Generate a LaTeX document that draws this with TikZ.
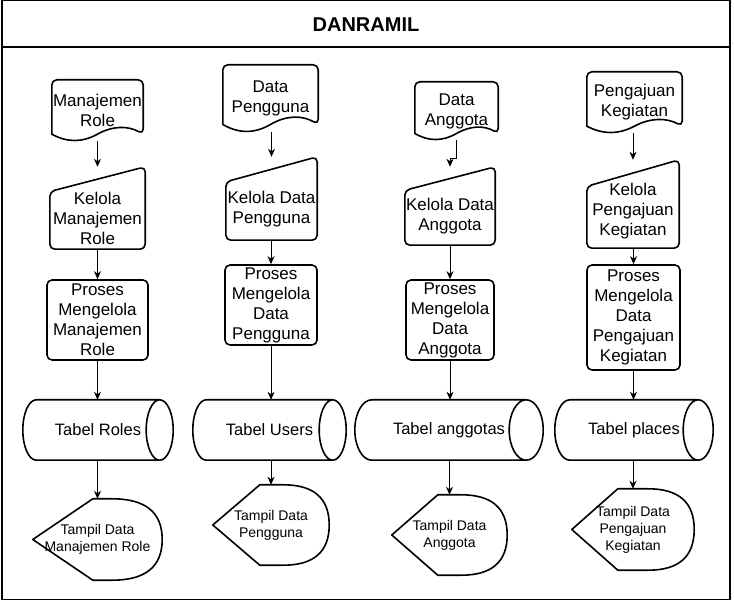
\documentclass[tikz,border=0pt]{standalone}
\usepackage{fontspec}
\setmainfont{Liberation Sans}
\usetikzlibrary{arrows.meta,calc}
\tikzset{
  shp/.style={line width=1.6pt, line join=round},
  bx/.style n args={2}{inner sep=0pt, align=center, minimum width=#1pt, minimum height=#2pt,
     font=\fontsize{17}{20}\selectfont},
  procbox/.style={draw, shp, rounded corners=5pt},
  cyltxt/.style={font=\fontsize{16.5}{20}\selectfont},
  disptxt/.style={font=\fontsize{14}{17}\selectfont},
  lbl/.style={inner sep=0pt, align=center, font=\fontsize{17}{20}\selectfont},
  arr/.style={line width=1pt, -{Stealth[length=8pt,width=7pt,inset=2.5pt]}},
}
\newcommand\docu[1]{%
  \draw[shp] let \p1=(#1.north west), \p2=(#1.south east), \n1={\x2-\x1},
    \n2={0.23*(\y1-\y2)}, \n3={\y2+0.5*\n2} in
    (\x1,\n3) [rounded corners=5pt] -- (\x1,\y1) -- (\x2,\y1) -- (\x2,\n3) [sharp corners]
    .. controls ({\x2-\n1/6},{\n3+0.6*\n2}) and ({\x1+\n1/2+\n1/6},{\n3+0.6*\n2}) .. ({\x1+\n1/2},\n3)
    .. controls ({\x1+\n1/2-\n1/6},{\n3-0.6*\n2}) and ({\x1+\n1/6},{\n3-0.6*\n2}) .. (\x1,\n3) -- cycle;}
\newcommand\manin[1]{%
  \draw[shp, rounded corners=5pt] let \p1=(#1.north west), \p2=(#1.south east) in
    ({(\x1+\x2)/2},\y2) -- (\x1,\y2) -- (\x1,{\y1-0.3*(\y1-\y2)}) -- (\x2,\y1) -- (\x2,\y2) -- cycle;}
\newcommand\cyl[2]{%
  \draw[shp] let \p1=(#1.north west), \p2=(#1.south east), \n1={(\y1-\y2)/2} in
    ({\x1+#2pt},\y1) -- ({\x2-#2pt},\y1) arc[start angle=90, end angle=-90, x radius=#2pt, y radius=\n1]
    -- ({\x1+#2pt},\y2) arc[start angle=270, end angle=90, x radius=#2pt, y radius=\n1] -- cycle
    ({\x2-#2pt},\y1) arc[start angle=90, end angle=270, x radius=#2pt, y radius=\n1];}
\newcommand\disp[3]{%
  \draw[shp] let \p1=(#1.north west), \p2=(#1.south east), \n1={(\y1+\y2)/2} in
    (\x1,\n1) -- ({\x1+#2pt},\y1) -- ({\x2-#3pt},\y1)
    .. controls ({\x2-#3pt/3},\y1) and (\x2,{\n1+2*(\y1-\n1)/3}) .. (\x2,\n1)
    .. controls (\x2,{\n1-2*(\n1-\y2)/3}) and ({\x2-#3pt/3},\y2) .. ({\x2-#3pt},\y2)
    -- ({\x1+#2pt},\y2) -- cycle;}
\begin{document}
\begin{tikzpicture}[x=1pt,y=-1pt]
\useasboundingbox (0,0) rectangle (734,601);
% frame
\draw[line width=1.3pt] (2,0.8) rectangle (730,599.5);
\draw[line width=2pt] (2,47) -- (730,47);
\node[font=\fontsize{20}{24}\selectfont\bfseries] (title) at (366,25) {DANRAMIL};

% documents
\node[bx={91}{61}] (d1) at (97.5,110.5) {Manajemen\\Role};
\node[bx={95}{67}] (d2) at (270.5,98.5) {Data\\Pengguna};
\node[bx={83}{58}] (d3) at (456.5,111) {Data\\Anggota};
\node[bx={95}{61}] (d4) at (634.5,102.5) {Pengajuan\\Kegiatan};
\docu{d1}\docu{d2}\docu{d3}\docu{d4}

% manual inputs
\node[bx={95}{82}] (k1) at (97.5,208) {};
\node[bx={91}{83}] (k2) at (271.5,198.5) {};
\node[bx={90}{78}] (k3) at (450,206) {};
\node[bx={92}{88}] (k4) at (633,204) {};
\manin{k1}\manin{k2}\manin{k3}\manin{k4}
\node[lbl] (k1t) at (97.5,218) {Kelola\\Manajemen\\Role};
\node[lbl] (k2t) at (271.5,209) {Kelola Data\\Pengguna};
\node[lbl] (k3t) at (450,216) {Kelola Data\\Anggota};
\node[lbl] (k4t) at (633,211) {Kelola\\Pengajuan\\Kegiatan};

% processes
\node[bx={101}{80}, procbox] (p1) at (97.5,320) {Proses\\Mengelola\\Manajemen\\Role};
\node[bx={92}{80}, procbox] (p2) at (271,305) {Proses\\Mengelola\\Data\\Pengguna};
\node[bx={88}{80}, procbox] (p3) at (450,320) {Proses\\Mengelola\\Data\\Anggota};
\node[bx={93}{105}, procbox] (p4) at (633.5,317.5) {Proses\\Mengelola\\Data\\Pengajuan\\Kegiatan};

% cylinders
\node[bx={150}{60}, cyltxt] (c1) at (98,430) {Tabel Roles};
\node[bx={153}{60}, cyltxt] (c2) at (269.5,430) {Tabel Users};
\node[bx={188}{60}, cyltxt] (c3) at (449,430) {Tabel anggotas};
\node[bx={158}{60}, cyltxt] (c4) at (634,430) {Tabel places};
\cyl{c1}{13.5}\cyl{c2}{13.5}\cyl{c3}{17}\cyl{c4}{15}

% displays
\node[bx={129}{81}, disptxt] (s1) at (97.5,539.5) {Tampil Data\\Manajemen Role};
\node[bx={116}{80}, disptxt] (s2) at (271,525) {Tampil Data\\Pengguna};
\node[bx={115}{80}, disptxt] (s3) at (449.5,535) {Tampil Data\\Anggota};
\node[bx={122}{81}, disptxt] (s4) at (633,529.5) {Tampil Data\\Pengajuan\\Kegiatan};
\disp{s1}{60}{50}\disp{s2}{47}{46}\disp{s3}{46}{46}\disp{s4}{46}{46}

% connectors
\draw[arr] (d1.south) -- (k1.north);
\draw[arr] (k2.north |- d2.south) -- (k2.north);
\draw[arr] (d3.south) -- ++(0,18) -| (k3.north);
\draw[arr] (k4.north |- d4.south) -- (k4.north);

\draw[arr] (k1.south) -- (p1.north);
\draw[arr] (p2.north |- k2.south) -- (p2.north);
\draw[arr] (k3.south) -- (p3.north);
\draw[arr] (p4.north |- k4.south) -- (p4.north);

\draw[arr] (p1.south) -- (p1.south |- c1.north);
\draw[arr] (p2.south) -- (p2.south |- c2.north);
\draw[arr] (p3.south) -- (p3.south |- c3.north);
\draw[arr] (p4.south) -- (p4.south |- c4.north);

\draw[arr] (s1.north |- c1.south) -- (s1.north);
\draw[arr] (s2.north |- c2.south) -- (s2.north);
\draw[arr] (s3.north |- c3.south) -- (s3.north);
\draw[arr] (s4.north |- c4.south) -- (s4.north);
\end{tikzpicture}
\end{document}
